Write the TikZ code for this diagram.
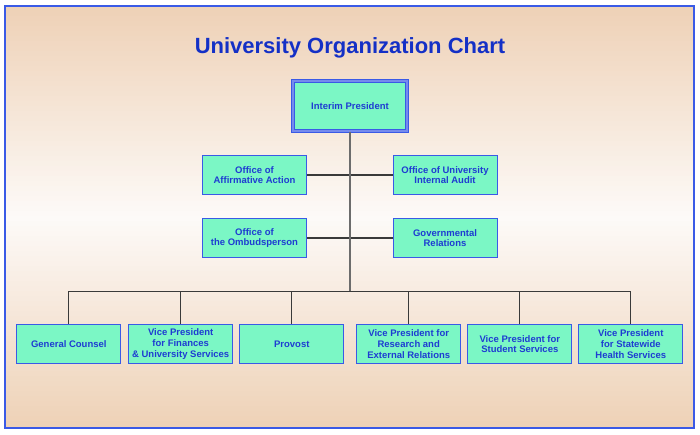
\documentclass[tikz,border=0pt]{standalone}
\usepackage{fontspec}
\setmainfont{Liberation Sans}
\usetikzlibrary{positioning}
\definecolor{chartblue}{HTML}{1E3CD2}
\definecolor{titleblue}{HTML}{1430C6}
\definecolor{boxline}{HTML}{3A5AE6}
\definecolor{boxfill}{HTML}{7BF7C5}
\definecolor{tanshade}{HTML}{EED1B6}
\definecolor{paper}{HTML}{FDFAF8}
\definecolor{wire}{HTML}{3A3A3A}

\tikzset{
  unit/.style={draw=boxline, fill=boxfill, line width=1pt, minimum width=104pt,
    minimum height=39.5pt, inner sep=1pt, align=center, text=chartblue,
    font=\fontsize{9.5}{10.7}\selectfont\bfseries},
  headunit/.style={unit, line width=1pt, double=boxline!70!white,
    double distance=1.6pt, minimum width=113.5pt, minimum height=50.5pt},
  wire/.style={draw=wire, line width=1.3pt},
  trunk/.style={draw=gray!85!black, line width=1.8pt}
}

\begin{document}
\begin{tikzpicture}[x=1pt, y=-1pt]
		%%%%% BACKGROUND %%%%%
		\useasboundingbox (0, 0) rectangle (700, 434);
		\fill[white] (0, 0) rectangle (700, 434);
		\begin{scope}
			\clip (5, 6) rectangle (694, 428);
			\foreach \i in {0,...,84} {
				\pgfmathsetmacro\p{min(100, abs(\i*5+8.5-217)/211*100)}
				\fill[tanshade!\p!paper] (5, 6+\i*5) rectangle (694, 11.6+\i*5);
			}
		\end{scope}
		\draw[boxline, line width=1.2pt] (5, 6) rectangle (694, 428);
		
		\node[text=titleblue, font=\fontsize{22}{26}\selectfont\bfseries] (title) at (350, 48) {University Organization Chart};
		
		%%%%% TOP %%%%%
		\node[headunit] (pres) at (350, 106) {Interim President};
		
		\node[unit] (aa) at (254.5, 175) {Office of\\Affirmative Action};
		\node[unit] (ia) at (445, 175) {Office of University\\Internal Audit};
		\node[unit] (ob) at (254.5, 238) {Office of\\the Ombudsperson};
		\node[unit] (gr) at (445, 238) {Governmental\\Relations};
		
		%%%%% BOTTOM ROW %%%%%
		\node[unit] (gc) at (68.8, 344) {General Counsel};
		\node[unit] (vf) at (180.7, 344) {Vice President\\for Finances\\\& University Services};
		\node[unit] (pv) at (291.8, 344) {Provost};
		\node[unit] (vr) at (408.7, 344) {Vice President for\\Research and\\External Relations};
		\node[unit] (vs) at (519.8, 344) {Vice President for\\Student Services};
		\node[unit] (hs) at (630.8, 344) {Vice President\\for Statewide\\Health Services};
		
		%%%%% CONNECTORS %%%%%
		\coordinate (bus) at (350, 291.7);
		\draw[wire] (aa.east) -- (ia.west);
		\draw[wire] (ob.east) -- (gr.west);
		\draw[trunk] (pres.south) -- (bus);
		\draw[wire] (gc.north) |- (bus) -| (hs.north);
		\foreach \n in {vf, pv, vr, vs}
			\draw[wire] (\n.north) -- (\n.north |- bus);
		
		%%%%% END %%%%%
	\end{tikzpicture}
\end{document}
